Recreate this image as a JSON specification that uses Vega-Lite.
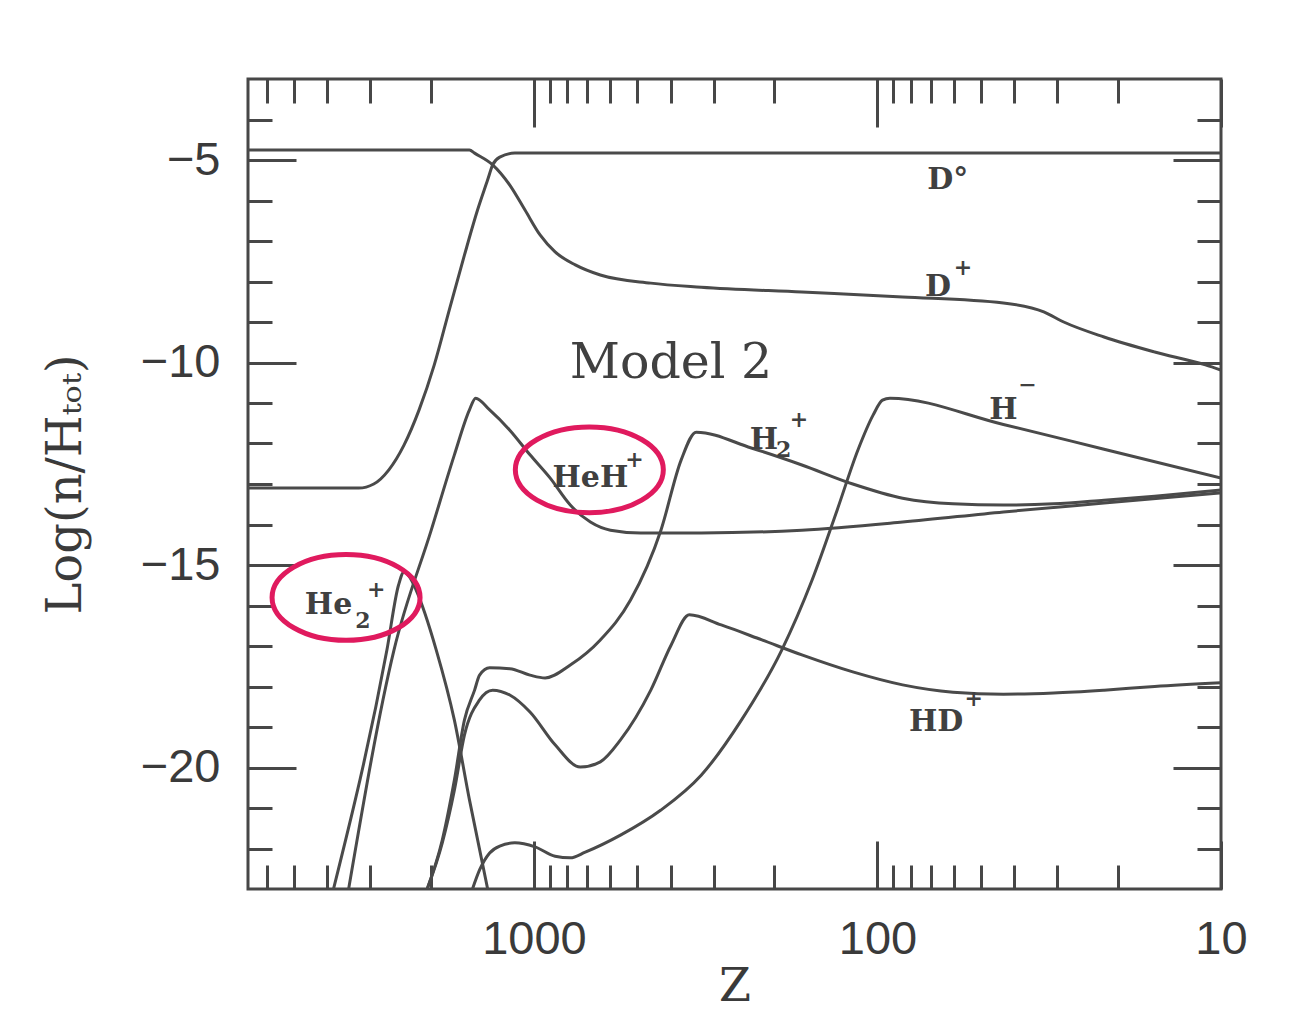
{
  "$schema": "https://vega.github.io/schema/vega-lite/v6.json",
  "width": 973,
  "height": 810,
  "autosize": {"type": "none"},
  "padding": {"left": 248, "top": 79, "right": 73, "bottom": 137},
  "background": "white",
  "config": {
    "view": {"stroke": "#474747", "strokeWidth": 3},
    "axis": {
      "domain": false,
      "grid": false,
      "tickColor": "#474747",
      "tickWidth": 3,
      "labelFont": "Liberation Sans",
      "labelFontSize": 47,
      "labelColor": "#3a3a3a",
      "labelFlush": false,
      "labelOverlap": false,
      "titleFont": "DejaVu Serif",
      "titleFontSize": 46,
      "titleFontWeight": "normal",
      "titleColor": "#3a3a3a"
    }
  },
  "datasets": {
    "curves": [
      {"s": "Dp", "z": 6800, "v": -4.75}, {"s": "Dp", "z": 1541, "v": -4.75}, {"s": "Dp", "z": 1489, "v": -4.83}, {"s": "Dp", "z": 1319, "v": -5.12}, {"s": "Dp", "z": 1176, "v": -5.62}, {"s": "Dp", "z": 1063, "v": -6.23}, {"s": "Dp", "z": 960, "v": -6.85}, {"s": "Dp", "z": 868, "v": -7.27}, {"s": "Dp", "z": 758, "v": -7.59}, {"s": "Dp", "z": 641, "v": -7.84}, {"s": "Dp", "z": 457, "v": -8.04}, {"s": "Dp", "z": 326, "v": -8.14}, {"s": "Dp", "z": 166, "v": -8.26}, {"s": "Dp", "z": 84.5, "v": -8.38}, {"s": "Dp", "z": 43, "v": -8.53}, {"s": "Dp", "z": 32.8, "v": -8.75}, {"s": "Dp", "z": 28.7, "v": -9.0}, {"s": "Dp", "z": 21.9, "v": -9.37}, {"s": "Dp", "z": 15.6, "v": -9.74}, {"s": "Dp", "z": 11.1, "v": -10.06}, {"s": "Dp", "z": 10, "v": -10.19},
      {"s": "D0", "z": 6800, "v": -13.1}, {"s": "D0", "z": 3238, "v": -13.1}, {"s": "D0", "z": 2927, "v": -13.0}, {"s": "D0", "z": 2645, "v": -12.65}, {"s": "D0", "z": 2390, "v": -12.04}, {"s": "D0", "z": 2160, "v": -11.17}, {"s": "D0", "z": 1951, "v": -10.06}, {"s": "D0", "z": 1764, "v": -8.7}, {"s": "D0", "z": 1594, "v": -7.35}, {"s": "D0", "z": 1459, "v": -6.23}, {"s": "D0", "z": 1364, "v": -5.49}, {"s": "D0", "z": 1319, "v": -5.12}, {"s": "D0", "z": 1258, "v": -4.93}, {"s": "D0", "z": 1137, "v": -4.83}, {"s": "D0", "z": 10, "v": -4.83},
      {"s": "HeH", "z": 3464, "v": -23}, {"s": "HeH", "z": 2556, "v": -17.1}, {"s": "HeH", "z": 1991, "v": -14.14}, {"s": "HeH", "z": 1705, "v": -12.28}, {"s": "HeH", "z": 1541, "v": -11.17}, {"s": "HeH", "z": 1479, "v": -10.88}, {"s": "HeH", "z": 1346, "v": -11.17}, {"s": "HeH", "z": 1176, "v": -11.67}, {"s": "HeH", "z": 1027, "v": -12.28}, {"s": "HeH", "z": 898, "v": -12.85}, {"s": "HeH", "z": 784, "v": -13.52}, {"s": "HeH", "z": 685, "v": -13.94}, {"s": "HeH", "z": 599, "v": -14.14}, {"s": "HeH", "z": 489, "v": -14.21}, {"s": "HeH", "z": 326, "v": -14.21}, {"s": "HeH", "z": 166, "v": -14.14}, {"s": "HeH", "z": 84.5, "v": -13.94}, {"s": "HeH", "z": 43, "v": -13.69}, {"s": "HeH", "z": 21.9, "v": -13.47}, {"s": "HeH", "z": 10, "v": -13.22},
      {"s": "He2", "z": 3834, "v": -23}, {"s": "He2", "z": 2680, "v": -17.1}, {"s": "He2", "z": 2480, "v": -15.5}, {"s": "He2", "z": 2390, "v": -15.17}, {"s": "He2", "z": 2300, "v": -15.3}, {"s": "He2", "z": 2203, "v": -15.62}, {"s": "He2", "z": 1925, "v": -17.1}, {"s": "He2", "z": 1705, "v": -18.83}, {"s": "He2", "z": 1541, "v": -20.8}, {"s": "He2", "z": 1364, "v": -23},
      {"s": "H2p", "z": 2046, "v": -23}, {"s": "H2p", "z": 1849, "v": -21.79}, {"s": "H2p", "z": 1705, "v": -20.31}, {"s": "H2p", "z": 1594, "v": -18.83}, {"s": "H2p", "z": 1489, "v": -18.09}, {"s": "H2p", "z": 1440, "v": -17.72}, {"s": "H2p", "z": 1346, "v": -17.54}, {"s": "H2p", "z": 1176, "v": -17.56}, {"s": "H2p", "z": 1027, "v": -17.72}, {"s": "H2p", "z": 928, "v": -17.79}, {"s": "H2p", "z": 784, "v": -17.47}, {"s": "H2p", "z": 641, "v": -16.85}, {"s": "H2p", "z": 523, "v": -15.86}, {"s": "H2p", "z": 427, "v": -14.14}, {"s": "H2p", "z": 373, "v": -12.41}, {"s": "H2p", "z": 337, "v": -11.72}, {"s": "H2p", "z": 233, "v": -12.11}, {"s": "H2p", "z": 166, "v": -12.53}, {"s": "H2p", "z": 118, "v": -13.0}, {"s": "H2p", "z": 84.5, "v": -13.35}, {"s": "H2p", "z": 60.3, "v": -13.49}, {"s": "H2p", "z": 43, "v": -13.52}, {"s": "H2p", "z": 30.7, "v": -13.49}, {"s": "H2p", "z": 21.9, "v": -13.4}, {"s": "H2p", "z": 15.6, "v": -13.3}, {"s": "H2p", "z": 10, "v": -13.15},
      {"s": "HDp", "z": 2046, "v": -23}, {"s": "HDp", "z": 1849, "v": -21.86}, {"s": "HDp", "z": 1705, "v": -20.56}, {"s": "HDp", "z": 1594, "v": -19.2}, {"s": "HDp", "z": 1440, "v": -18.33}, {"s": "HDp", "z": 1319, "v": -18.09}, {"s": "HDp", "z": 1176, "v": -18.21}, {"s": "HDp", "z": 1027, "v": -18.63}, {"s": "HDp", "z": 868, "v": -19.44}, {"s": "HDp", "z": 733, "v": -19.99}, {"s": "HDp", "z": 641, "v": -19.86}, {"s": "HDp", "z": 560, "v": -19.32}, {"s": "HDp", "z": 457, "v": -18.09}, {"s": "HDp", "z": 399, "v": -16.98}, {"s": "HDp", "z": 353, "v": -16.23}, {"s": "HDp", "z": 285, "v": -16.48}, {"s": "HDp", "z": 217, "v": -16.85}, {"s": "HDp", "z": 166, "v": -17.22}, {"s": "HDp", "z": 118, "v": -17.64}, {"s": "HDp", "z": 84.5, "v": -17.96}, {"s": "HDp", "z": 60.3, "v": -18.14}, {"s": "HDp", "z": 43, "v": -18.19}, {"s": "HDp", "z": 30.7, "v": -18.16}, {"s": "HDp", "z": 21.9, "v": -18.09}, {"s": "HDp", "z": 15.6, "v": -18.0}, {"s": "HDp", "z": 10, "v": -17.91},
      {"s": "Hm", "z": 1510, "v": -23}, {"s": "Hm", "z": 1440, "v": -22.53}, {"s": "Hm", "z": 1346, "v": -22.11}, {"s": "Hm", "z": 1258, "v": -21.94}, {"s": "Hm", "z": 1137, "v": -21.86}, {"s": "Hm", "z": 993, "v": -21.96}, {"s": "Hm", "z": 868, "v": -22.19}, {"s": "Hm", "z": 784, "v": -22.23}, {"s": "Hm", "z": 709, "v": -22.09}, {"s": "Hm", "z": 560, "v": -21.67}, {"s": "Hm", "z": 427, "v": -21.05}, {"s": "Hm", "z": 326, "v": -20.19}, {"s": "Hm", "z": 249, "v": -18.83}, {"s": "Hm", "z": 190, "v": -17.1}, {"s": "Hm", "z": 155, "v": -15.37}, {"s": "Hm", "z": 131, "v": -13.64}, {"s": "Hm", "z": 114, "v": -12.16}, {"s": "Hm", "z": 103, "v": -11.3}, {"s": "Hm", "z": 96.7, "v": -10.93}, {"s": "Hm", "z": 92, "v": -10.88}, {"s": "Hm", "z": 43, "v": -11.53}, {"s": "Hm", "z": 21.9, "v": -12.14}, {"s": "Hm", "z": 10, "v": -12.85}
    ],
    "labels": [
      {"z": 62.4, "v": -5.49, "t": "D°"},
      {"z": 66.7, "v": -8.14, "t": "D"},
      {"z": 214, "v": -11.91, "t": "H"},
      {"z": 43.0, "v": -11.17, "t": "H"},
      {"z": 67.5, "v": -18.88, "t": "HD"},
      {"z": 685, "v": -12.85, "t": "HeH"},
      {"z": 3963, "v": -15.99, "t": "He"}
    ],
    "scripts": [
      {"z": 56.4, "v": -7.67, "t": "+"},
      {"z": 187.5, "v": -12.16, "t": "2"},
      {"z": 169.4, "v": -11.42, "t": "+"},
      {"z": 36.6, "v": -10.56, "t": "−"},
      {"z": 52.5, "v": -18.3, "t": "+"},
      {"z": 510, "v": -12.41, "t": "+"},
      {"z": 3150, "v": -16.38, "t": "2"},
      {"z": 2880, "v": -15.62, "t": "+"}
    ],
    "rings": [
      {"z": 690, "v": -12.65},
      {"z": 3524, "v": -15.8}
    ],
    "model": [
      {"z": 399, "v": -10.0, "t": "Model 2"}
    ]
  },
  "layer": [
    {
      "data": {"name": "curves"},
      "mark": {"type": "line", "clip": true, "strokeWidth": 3, "color": "#4a4a4a", "interpolate": "monotone"},
      "encoding": {
        "x": {"field": "z", "type": "quantitative",
              "scale": {"type": "log", "domain": [10, 6800], "reverse": true, "nice": false},
              "axis": {"orient": "bottom", "values": [10, 100, 1000], "format": "d", "tickSize": -48, "labelPadding": 75, "title": "Z", "titlePadding": 2}},
        "y": {"field": "v", "type": "quantitative",
              "scale": {"domain": [-23, -3], "nice": false, "zero": false},
              "axis": {"orient": "left", "values": [-20, -15, -10, -5], "format": "d", "tickSize": -48, "labelPadding": 76, "title": "Log(n/Hₜₒₜ)", "titleFontSize": 48, "titlePadding": 50}},
        "detail": {"field": "s", "type": "nominal"}
      }
    },
    {
      "data": {"name": "labels"},
      "mark": {"type": "text", "font": "DejaVu Serif", "fontSize": 30, "fontWeight": "bold", "color": "#404040"},
      "encoding": {
        "x": {"field": "z", "type": "quantitative",
              "scale": {"type": "log", "domain": [10, 6800], "reverse": true, "nice": false},
              "axis": {"orient": "bottom", "values": [20, 30, 40, 50, 60, 70, 80, 90, 200, 300, 400, 500, 600, 700, 800, 900, 2000, 3000, 4000, 5000, 6000], "tickSize": -24, "labels": false, "title": null}},
        "y": {"field": "v", "type": "quantitative",
              "scale": {"domain": [-23, -3], "nice": false, "zero": false},
              "axis": {"orient": "left", "values": [-22, -21, -19, -18, -17, -16, -14, -13, -12, -11, -9, -8, -7, -6, -4], "tickSize": -24, "labels": false, "title": null}},
        "text": {"field": "t", "type": "nominal"}
      }
    },
    {
      "data": {"name": "rings"},
      "mark": {"type": "point", "shape": "M -1 0 A 1 0.58 0 1 1 1 0 A 1 0.58 0 1 1 -1 0 Z", "size": 21904, "filled": false, "stroke": "#e01a5e", "strokeWidth": 5, "opacity": 1},
      "encoding": {
        "x": {"field": "z", "type": "quantitative",
              "scale": {"type": "log", "domain": [10, 6800], "reverse": true, "nice": false},
              "axis": {"orient": "top", "values": [10, 100, 1000], "tickSize": -48, "labels": false, "title": null}},
        "y": {"field": "v", "type": "quantitative",
              "scale": {"domain": [-23, -3], "nice": false, "zero": false},
              "axis": {"orient": "right", "values": [-20, -15, -10, -5], "tickSize": -48, "labels": false, "title": null}}
      }
    },
    {
      "data": {"name": "model"},
      "mark": {"type": "text", "font": "DejaVu Serif", "fontSize": 49, "color": "#404040"},
      "encoding": {
        "x": {"field": "z", "type": "quantitative",
              "scale": {"type": "log", "domain": [10, 6800], "reverse": true, "nice": false},
              "axis": {"orient": "top", "values": [20, 30, 40, 50, 60, 70, 80, 90, 200, 300, 400, 500, 600, 700, 800, 900, 2000, 3000, 4000, 5000, 6000], "tickSize": -24, "labels": false, "title": null}},
        "y": {"field": "v", "type": "quantitative",
              "scale": {"domain": [-23, -3], "nice": false, "zero": false},
              "axis": {"orient": "right", "values": [-22, -21, -19, -18, -17, -16, -14, -13, -12, -11, -9, -8, -7, -6, -4], "tickSize": -24, "labels": false, "title": null}},
        "text": {"field": "t", "type": "nominal"}
      }
    },
    {
      "data": {"name": "scripts"},
      "mark": {"type": "text", "font": "DejaVu Serif", "fontSize": 22, "fontWeight": "bold", "color": "#404040"},
      "encoding": {
        "x": {"field": "z", "type": "quantitative",
              "scale": {"type": "log", "domain": [10, 6800], "reverse": true, "nice": false},
              "axis": null},
        "y": {"field": "v", "type": "quantitative",
              "scale": {"domain": [-23, -3], "nice": false, "zero": false},
              "axis": null},
        "text": {"field": "t", "type": "nominal"}
      }
    }
  ],
  "resolve": {"axis": {"x": "independent", "y": "independent"}}
}
